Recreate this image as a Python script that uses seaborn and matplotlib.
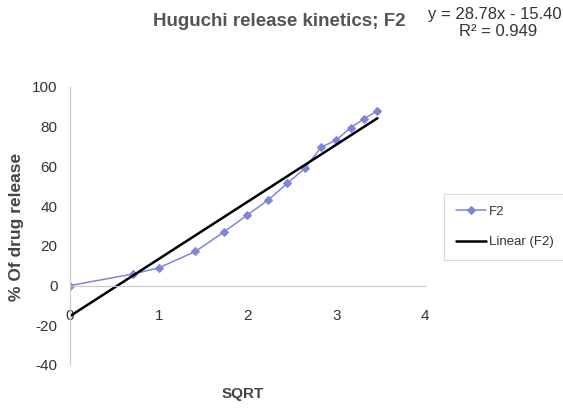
import numpy as np
import pandas as pd
import matplotlib
matplotlib.use("Agg")
import matplotlib.pyplot as plt
import seaborn as sns

# Data
sqrt_t = [0.0, 0.707, 1.0, 1.414, 1.732, 2.0, 2.236, 2.449, 2.646, 2.828, 3.0, 3.162, 3.317, 3.464]
release_f2 = [0.0, 5.8, 8.9, 17.2, 26.9, 35.6, 43.2, 51.5, 59.0, 69.6, 73.3, 79.5, 84.1, 88.0]
slope = 28.78
intercept = -15.40
r2 = 0.949
x_ticks = [0, 1, 2, 3, 4]
y_ticks = [-40, -20, 0, 20, 40, 60, 80, 100]

sns.set_style("white")
plt.rcParams['font.family'] = ['Liberation Sans', 'DejaVu Sans']

df = pd.DataFrame({"SQRT": sqrt_t, "release": release_f2})
fit_x = np.array([min(sqrt_t), max(sqrt_t)])
fit_df = pd.DataFrame({"SQRT": fit_x, "release": slope * fit_x + intercept})

fig = plt.figure(figsize=(5.63, 4.08), dpi=100)
ax = fig.add_axes([0.1243, 0.1054, 0.6306, 0.6814])

blue = "#7f86d8"
sns.lineplot(data=df, x="SQRT", y="release", ax=ax, color=blue, marker="D",
             markersize=4, markeredgecolor=blue, linewidth=1.1, label="F2")
sns.lineplot(data=fit_df, x="SQRT", y="release", ax=ax, color="black",
             linewidth=1.8, label="Linear (F2)")

ax.set_xlim(0, 4)
ax.set_ylim(-40, 100)
ax.set_xticks(x_ticks)
ax.set_yticks(y_ticks)
ax.set_xticklabels([str(v) for v in x_ticks])
ax.set_yticklabels([str(v) for v in y_ticks])

for s in ["top", "right"]:
    ax.spines[s].set_visible(False)
ax.spines["bottom"].set_position(("data", 0))
ax.spines["bottom"].set_color("#c8c8c8")
ax.spines["left"].set_color("#c8c8c8")
ax.spines["bottom"].set_linewidth(0.8)
ax.spines["left"].set_linewidth(0.8)

ax.tick_params(axis="x", direction="out", length=3, color="#c8c8c8", pad=14,
               labelsize=11, labelcolor="#333333")
ax.tick_params(axis="y", direction="out", length=3, color="#c8c8c8", pad=6,
               labelsize=11, labelcolor="#333333")
ax.grid(False)

ax.set_xlabel("")
ax.set_ylabel("")
fig.text(243 / 563, 1 - 394 / 408, "SQRT", ha="center", va="center",
         fontsize=11, fontweight="bold", color="#444444")
fig.text(17 / 563, 1 - 227 / 408, "% Of drug release", ha="center", va="center",
         rotation=90, fontsize=12.5, fontweight="bold", color="#444444")

fig.text(279 / 563, 1 - 22 / 408, "Huguchi release kinetics; F2", ha="center",
         va="center", fontsize=13.5, fontweight="bold", color="#555555")
fig.text(495 / 563, 1 - 15 / 408, f"y = {slope:.2f}x - {abs(intercept):.2f}",
         ha="center", va="center", fontsize=12, color="#333333")
fig.text(498 / 563, 1 - 31 / 408, f"R² = {r2:.3f}", ha="center", va="center",
         fontsize=12, color="#333333")

ax.get_legend().remove()
handles, labels = ax.get_legend_handles_labels()
leg = fig.legend(handles, labels, loc="upper left",
                 bbox_to_anchor=(444 / 563, 1 - 194 / 408),
                 frameon=True, fancybox=False, fontsize=9.5,
                 handlelength=2.3, borderpad=0.9, labelspacing=1.35,
                 handletextpad=0.2, borderaxespad=0.0)
leg.get_frame().set_edgecolor("#d0d0d0")
leg.get_frame().set_linewidth(0.8)
for t in leg.get_texts():
    t.set_color("#333333")

fig.savefig("out.png", dpi=100)
